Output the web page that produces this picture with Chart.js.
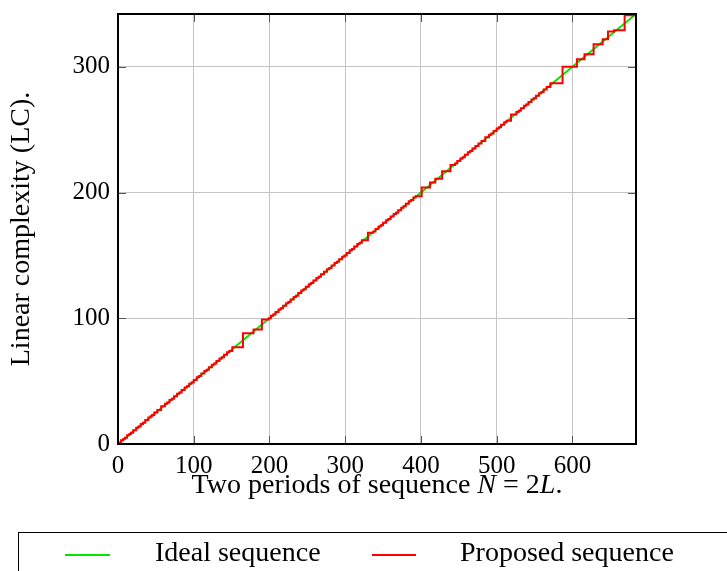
<!DOCTYPE html>
<html>
<head>
<meta charset="utf-8">
<script src="https://cdn.jsdelivr.net/npm/chart.js@4.4.1/dist/chart.umd.min.js"></script>
<style>
    html, body { margin: 0; padding: 0; background: #fff; }
    #wrap { width: 727px; height: 571px; position: relative; }
</style>
</head>
<body>
<div id="wrap"><canvas id="lc"></canvas></div>
<script>
// ideal profile: straight line N/2
const idealN = [0, 684];
const idealLC = [0, 342];

// proposed sequence: points where the linear complexity jumps
const proposedN = [
    0, 1, 4, 7, 9, 12, 15, 17, 20, 24,
    27, 30, 33, 36, 40, 43, 45, 48, 52, 57,
    62, 65, 68, 71, 74, 78, 81, 84, 88, 91,
    94, 97, 100, 104, 107, 110, 114, 117, 120, 124,
    127, 130, 134, 137, 140, 144, 147, 151, 165, 179,
    190, 199, 202, 205, 208, 212, 215, 218, 222, 225,
    228, 232, 235, 238, 242, 245, 248, 252, 255, 258,
    262, 265, 268, 272, 276, 279, 282, 286, 289, 292,
    296, 299, 302, 306, 309, 312, 316, 319, 322, 330,
    337, 340, 344, 347, 350, 354, 357, 360, 364, 367,
    370, 374, 377, 380, 384, 387, 390, 393, 401, 412,
    419, 428, 439, 445, 448, 452, 455, 458, 462, 465,
    468, 472, 476, 480, 485, 490, 493, 496, 500, 503,
    506, 510, 513, 519, 526, 529, 532, 536, 539, 542,
    546, 549, 552, 556, 559, 562, 566, 571, 587, 606,
    616, 628, 640, 647, 655, 669, 684
];
const proposedLC = [
    0, 1, 3, 4, 5, 7, 8, 9, 11, 13,
    14, 16, 17, 19, 21, 22, 23, 25, 27, 30,
    32, 33, 35, 36, 38, 40, 41, 43, 45, 46,
    48, 49, 51, 53, 54, 56, 58, 59, 61, 63,
    64, 66, 68, 69, 71, 73, 74, 77, 88, 91,
    99, 100, 102, 103, 105, 107, 108, 110, 112, 113,
    115, 117, 118, 120, 122, 123, 125, 127, 128, 130,
    132, 133, 135, 137, 139, 140, 142, 144, 145, 147,
    149, 150, 152, 154, 155, 157, 159, 160, 162, 168,
    169, 171, 173, 174, 176, 178, 179, 181, 183, 184,
    186, 188, 189, 191, 193, 194, 196, 197, 204, 208,
    211, 217, 222, 223, 225, 227, 228, 230, 232, 233,
    235, 237, 239, 241, 244, 246, 247, 249, 251, 252,
    254, 256, 257, 262, 264, 265, 267, 269, 270, 272,
    274, 275, 277, 279, 280, 282, 284, 287, 300, 306,
    310, 318, 322, 328, 329, 341, 341
];

const xTicks = [0, 100, 200, 300, 400, 500, 600];
const yTicks = [0, 100, 200, 300];
const xMax = 684;
const yMax = 342;

const serif = '"Liberation Serif", "DejaVu Serif", serif';
const GREEN = '#00e600';
const RED = '#ff0000';

const toPoints = (xs, ys) => xs.map((x, i) => ({x, y: ys[i]}));

// pgfplots-like frame with inward ticks on all four sides
const framePlugin = {
    id: 'frame',
    afterDatasetsDraw(chart) {
        const {ctx, chartArea: a, scales: {x, y}} = chart;
        ctx.save();
        ctx.strokeStyle = '#555';
        ctx.lineWidth = 1;
        const len = 8;
        xTicks.forEach(v => {
            let px = Math.round(x.getPixelForValue(v)) + 0.5;
            ctx.beginPath();
            ctx.moveTo(px, a.bottom); ctx.lineTo(px, a.bottom - len);
            ctx.moveTo(px, a.top); ctx.lineTo(px, a.top + len);
            ctx.stroke();
        });
        yTicks.forEach(v => {
            let py = Math.round(y.getPixelForValue(v)) + 0.5;
            ctx.beginPath();
            ctx.moveTo(a.left, py); ctx.lineTo(a.left + len, py);
            ctx.moveTo(a.right, py); ctx.lineTo(a.right - len, py);
            ctx.stroke();
        });
        ctx.strokeStyle = '#000';
        ctx.lineWidth = 2;
        ctx.strokeRect(a.left, a.top, a.right - a.left, a.bottom - a.top);
        ctx.restore();
    }
};

// x title with italic N and L, plus the boxed legend underneath
const labelsPlugin = {
    id: 'labels',
    afterDraw(chart) {
        const {ctx, chartArea: a} = chart;
        ctx.save();
        ctx.fillStyle = '#000';
        ctx.textBaseline = 'middle';
        ctx.textAlign = 'left';

        let parts = [
            ['Two periods of sequence ', false],
            ['N', true],
            [' = 2', false],
            ['L', true],
            ['.', false]
        ];
        const fontFor = it => (it ? 'italic ' : '') + '28px ' + serif;
        let total = 0;
        parts.forEach(p => { ctx.font = fontFor(p[1]); total += ctx.measureText(p[0]).width; });
        let cx = (a.left + a.right) / 2 - total / 2;
        parts.forEach(p => {
            ctx.font = fontFor(p[1]);
            ctx.fillText(p[0], cx, 486);
            cx += ctx.measureText(p[0]).width;
        });

        // legend
        ctx.strokeStyle = '#000';
        ctx.lineWidth = 1;
        ctx.strokeRect(18.5, 532.5, 760, 80);
        ctx.lineWidth = 2;
        ctx.strokeStyle = GREEN;
        ctx.beginPath(); ctx.moveTo(65, 555); ctx.lineTo(110, 555); ctx.stroke();
        ctx.strokeStyle = RED;
        ctx.beginPath(); ctx.moveTo(372, 555); ctx.lineTo(416, 555); ctx.stroke();
        ctx.font = '28px ' + serif;
        ctx.fillText('Ideal sequence', 155, 554);
        ctx.fillText('Proposed sequence', 460, 554);
        ctx.restore();
    }
};

new Chart(document.getElementById('lc'), {
    type: 'line',
    data: {
        datasets: [
            {
                label: 'Ideal sequence',
                data: toPoints(idealN, idealLC),
                borderColor: GREEN,
                borderWidth: 2,
                pointRadius: 0,
                order: 1
            },
            {
                label: 'Proposed sequence',
                data: toPoints(proposedN, proposedLC),
                borderColor: RED,
                borderWidth: 2,
                pointRadius: 0,
                stepped: true,
                order: 0
            }
        ]
    },
    options: {
        responsive: true,
        maintainAspectRatio: false,
        animation: false,
        layout: {
            padding: {top: 14, right: 91, bottom: 74, left: 0}
        },
        plugins: {
            legend: {display: false},
            tooltip: {enabled: false}
        },
        scales: {
            x: {
                type: 'linear',
                min: 0,
                max: xMax,
                afterBuildTicks: s => { s.ticks = xTicks.map(v => ({value: v})); },
                afterFit: s => { s.height = 53; s.paddingLeft = 0; s.paddingRight = 0; },
                grid: {color: '#c4c4c4', drawTicks: false},
                border: {display: false},
                ticks: {
                    color: '#000',
                    font: {family: serif, size: 25},
                    padding: 7,
                    maxRotation: 0,
                    autoSkip: false
                }
            },
            y: {
                min: 0,
                max: yMax,
                afterBuildTicks: s => { s.ticks = yTicks.map(v => ({value: v})); },
                afterFit: s => { s.width = 118; s.paddingTop = 0; s.paddingBottom = 0; },
                grid: {color: '#c4c4c4', drawTicks: false},
                border: {display: false},
                ticks: {
                    color: '#000',
                    font: {family: serif, size: 25},
                    padding: 8
                },
                title: {
                    display: true,
                    text: 'Linear complexity (LC).',
                    color: '#000',
                    font: {family: serif, size: 28},
                    padding: {top: 5}
                }
            }
        }
    },
    plugins: [framePlugin, labelsPlugin]
});
</script>
</body>
</html>
